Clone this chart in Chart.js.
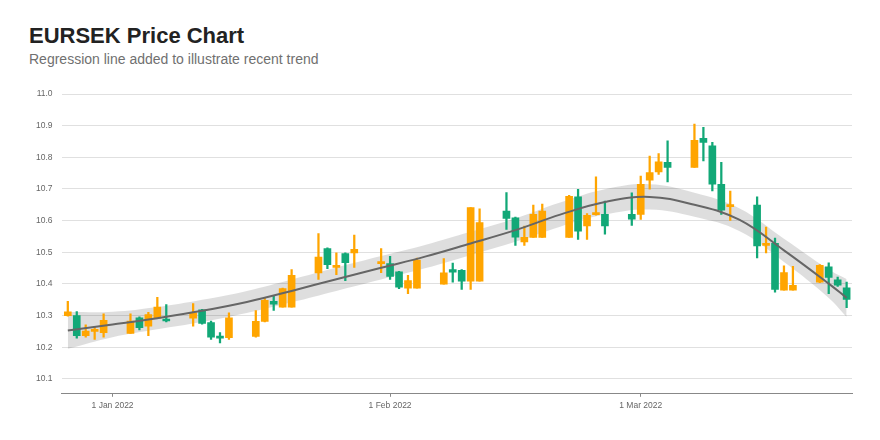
<!DOCTYPE html>
<html>
<head>
<meta charset="utf-8">
<title>EURSEK Price Chart</title>
<script src="https://cdn.jsdelivr.net/npm/chart.js@4.4.1/dist/chart.umd.min.js"></script>
<style>
    body { margin: 0; background: #fff; font-family: "Liberation Sans", Arial, sans-serif; }
    #wrap { position: relative; width: 880px; height: 440px; }
    #title { position: absolute; left: 29px; top: 25px; margin: 0; font-size: 22px; line-height: 22px; font-weight: bold; color: #222; }
    #subtitle { position: absolute; left: 29px; top: 52px; margin: 0; font-size: 14px; line-height: 14px; color: #707070; }
    #chartBox { position: absolute; left: 0; top: 0; width: 880px; height: 440px; }
</style>
</head>
<body>
<div id="wrap">
    <h1 id="title">EURSEK Price Chart</h1>
    <p id="subtitle">Regression line added to illustrate recent trend</p>
    <div id="chartBox"><canvas id="priceChart"></canvas></div>
</div>
<script>
// daily candles (trading days only)
const dates = [
    '2021-12-27', '2021-12-28', '2021-12-29', '2021-12-30', '2021-12-31',
    '2022-01-03', '2022-01-04', '2022-01-05', '2022-01-06', '2022-01-07',
    '2022-01-10', '2022-01-11', '2022-01-12', '2022-01-13', '2022-01-14',
    '2022-01-17', '2022-01-18', '2022-01-19', '2022-01-20', '2022-01-21',
    '2022-01-24', '2022-01-25', '2022-01-26', '2022-01-27', '2022-01-28',
    '2022-01-31', '2022-02-01', '2022-02-02', '2022-02-03', '2022-02-04',
    '2022-02-07', '2022-02-08', '2022-02-09', '2022-02-10', '2022-02-11',
    '2022-02-14', '2022-02-15', '2022-02-16', '2022-02-17', '2022-02-18',
    '2022-02-21', '2022-02-22', '2022-02-23', '2022-02-24', '2022-02-25',
    '2022-02-28', '2022-03-01', '2022-03-02', '2022-03-03', '2022-03-04',
    '2022-03-07', '2022-03-08', '2022-03-09', '2022-03-10', '2022-03-11',
    '2022-03-14', '2022-03-15', '2022-03-16', '2022-03-17', '2022-03-18',
    '2022-03-21', '2022-03-22', '2022-03-23', '2022-03-24'
];
const openPrices = [
    10.300, 10.300, 10.237, 10.250, 10.246,
    10.244, 10.293, 10.267, 10.292, 10.289,
    10.292, 10.318, 10.278, 10.232, 10.230,
    10.234, 10.282, 10.345, 10.327, 10.327,
    10.435, 10.512, 10.452, 10.496, 10.498,
    10.464, 10.464, 10.438, 10.387, 10.387,
    10.399, 10.445, 10.443, 10.409, 10.409,
    10.630, 10.609, 10.533, 10.547, 10.547,
    10.547, 10.675, 10.583, 10.619, 10.620,
    10.620, 10.620, 10.728, 10.754, 10.784,
    10.768, 10.860, 10.836, 10.715, 10.644,
    10.649, 10.522, 10.528, 10.380, 10.380,
    10.406, 10.454, 10.413, 10.388
];
const highPrices = [
    10.345, 10.313, 10.271, 10.265, 10.306,
    10.306, 10.296, 10.310, 10.358, 10.335,
    10.338, 10.320, 10.283, 10.246, 10.309,
    10.316, 10.357, 10.364, 10.387, 10.445,
    10.559, 10.514, 10.498, 10.498, 10.554,
    10.512, 10.487, 10.440, 10.427, 10.482,
    10.480, 10.466, 10.445, 10.641, 10.637,
    10.689, 10.611, 10.583, 10.649, 10.652,
    10.680, 10.699, 10.622, 10.738, 10.662,
    10.688, 10.741, 10.804, 10.812, 10.852,
    10.905, 10.895, 10.847, 10.784, 10.693,
    10.675, 10.580, 10.545, 10.457, 10.456,
    10.461, 10.467, 10.422, 10.406
];
const lowPrices = [
    10.298, 10.229, 10.232, 10.225, 10.232,
    10.244, 10.255, 10.237, 10.292, 10.280,
    10.267, 10.273, 10.225, 10.214, 10.225,
    10.232, 10.280, 10.316, 10.327, 10.327,
    10.414, 10.448, 10.429, 10.410, 10.452,
    10.436, 10.414, 10.385, 10.369, 10.387,
    10.399, 10.406, 10.383, 10.383, 10.409,
    10.572, 10.522, 10.522, 10.547, 10.547,
    10.547, 10.541, 10.541, 10.617, 10.557,
    10.585, 10.604, 10.699, 10.746, 10.722,
    10.768, 10.789, 10.694, 10.620, 10.601,
    10.482, 10.498, 10.374, 10.380, 10.380,
    10.404, 10.369, 10.392, 10.325
];
const closePrices = [
    10.312, 10.237, 10.251, 10.254, 10.285,
    10.283, 10.262, 10.303, 10.327, 10.283,
    10.309, 10.275, 10.232, 10.229, 10.293,
    10.282, 10.348, 10.336, 10.385, 10.427,
    10.485, 10.461, 10.459, 10.467, 10.509,
    10.468, 10.424, 10.390, 10.411, 10.475,
    10.435, 10.437, 10.409, 10.641, 10.594,
    10.607, 10.548, 10.547, 10.620, 10.630,
    10.677, 10.567, 10.617, 10.623, 10.583,
    10.605, 10.715, 10.752, 10.786, 10.768,
    10.854, 10.847, 10.715, 10.633, 10.648,
    10.520, 10.526, 10.383, 10.436, 10.396,
    10.459, 10.421, 10.396, 10.351
];

// smoothed regression line and its confidence band (days since 1 Jan 2022)
const fitDays = [-5, 0, 5, 10, 15, 20, 25, 30, 35, 40, 45, 50, 55, 60, 65, 70, 75, 80, 82];
const fitLine = [10.253, 10.272, 10.292, 10.315, 10.343, 10.378, 10.415, 10.451, 10.487, 10.528,
                 10.570, 10.619, 10.659, 10.675, 10.650, 10.603, 10.506, 10.401, 10.356];
const fitLower = [10.195, 10.232, 10.257, 10.280, 10.308, 10.342, 10.378, 10.414, 10.450, 10.491,
                  10.533, 10.581, 10.619, 10.635, 10.612, 10.567, 10.469, 10.356, 10.296];
const fitUpper = [10.311, 10.312, 10.327, 10.350, 10.378, 10.414, 10.452, 10.488, 10.524, 10.565,
                  10.607, 10.657, 10.699, 10.715, 10.688, 10.639, 10.543, 10.446, 10.416];

const tickDays = [0, 31, 59];
const tickLabels = ['1 Jan 2022', '1 Feb 2022', '1 Mar 2022'];
const yTicks = [10.1, 10.2, 10.3, 10.4, 10.5, 10.6, 10.7, 10.8, 10.9, 11.0];

const upColor = '#ffa500';
const downColor = '#12a877';

const startTime = Date.UTC(2022, 0, 1);
function dayOf(s) {
    return Math.round((Date.parse(s) - startTime) / 86400000);
}

const candleColors = openPrices.map((o, i) => closePrices[i] >= o ? upColor : downColor);

Chart.defaults.font.family = '"Liberation Sans", Arial, sans-serif';

new Chart(document.getElementById('priceChart'), {
    type: 'bar',
    data: {
        datasets: [
            {
                type: 'line',
                data: fitDays.map((d, i) => ({ x: d, y: fitLine[i] })),
                borderColor: '#666666',
                borderWidth: 2,
                pointRadius: 0,
                tension: 0.4,
                fill: false,
                order: 0
            },
            {
                data: dates.map((s, i) => ({ x: dayOf(s), y: [openPrices[i], closePrices[i]] })),
                backgroundColor: candleColors,
                barThickness: 7,
                minBarLength: 2,
                grouped: false,
                order: 1
            },
            {
                data: dates.map((s, i) => ({ x: dayOf(s), y: [lowPrices[i], highPrices[i]] })),
                backgroundColor: candleColors,
                barThickness: 1.6,
                grouped: false,
                order: 2
            },
            {
                type: 'line',
                data: fitDays.map((d, i) => ({ x: d, y: fitLower[i] })),
                borderWidth: 0,
                pointRadius: 0,
                tension: 0.4,
                fill: false,
                order: 3
            },
            {
                type: 'line',
                data: fitDays.map((d, i) => ({ x: d, y: fitUpper[i] })),
                borderWidth: 0,
                pointRadius: 0,
                tension: 0.4,
                fill: '-1',
                backgroundColor: 'rgba(0, 0, 0, 0.13)',
                order: 4
            }
        ]
    },
    options: {
        responsive: true,
        maintainAspectRatio: false,
        animation: false,
        layout: {
            padding: { left: 27, right: 28, top: 94, bottom: 25 }
        },
        plugins: {
            legend: { display: false },
            tooltip: { enabled: false }
        },
        scales: {
            x: {
                type: 'linear',
                min: -5.7,
                max: 82.6,
                offset: false,
                grid: {
                    offset: false,
                    drawOnChartArea: false,
                    drawTicks: true,
                    tickLength: 3,
                    color: '#888888'
                },
                border: { display: true, color: '#888888', width: 1 },
                ticks: {
                    padding: 4,
                    maxRotation: 0,
                    color: '#666666',
                    font: { size: 8.5 },
                    callback: function(value) {
                        const i = tickDays.indexOf(value);
                        return i >= 0 ? tickLabels[i] : '';
                    }
                },
                afterBuildTicks: function(axis) {
                    axis.ticks = tickDays.map(v => ({ value: v }));
                }
            },
            y: {
                type: 'linear',
                min: 10.053,
                max: 11.0,
                grid: {
                    color: '#e0e0e0',
                    lineWidth: 1,
                    drawTicks: false
                },
                border: { display: false },
                ticks: {
                    padding: 9,
                    color: '#666666',
                    font: { size: 8.5 },
                    callback: function(value) {
                        return value.toFixed(1);
                    }
                },
                afterBuildTicks: function(axis) {
                    axis.ticks = yTicks.map(v => ({ value: v }));
                }
            }
        }
    }
});
</script>
</body>
</html>
